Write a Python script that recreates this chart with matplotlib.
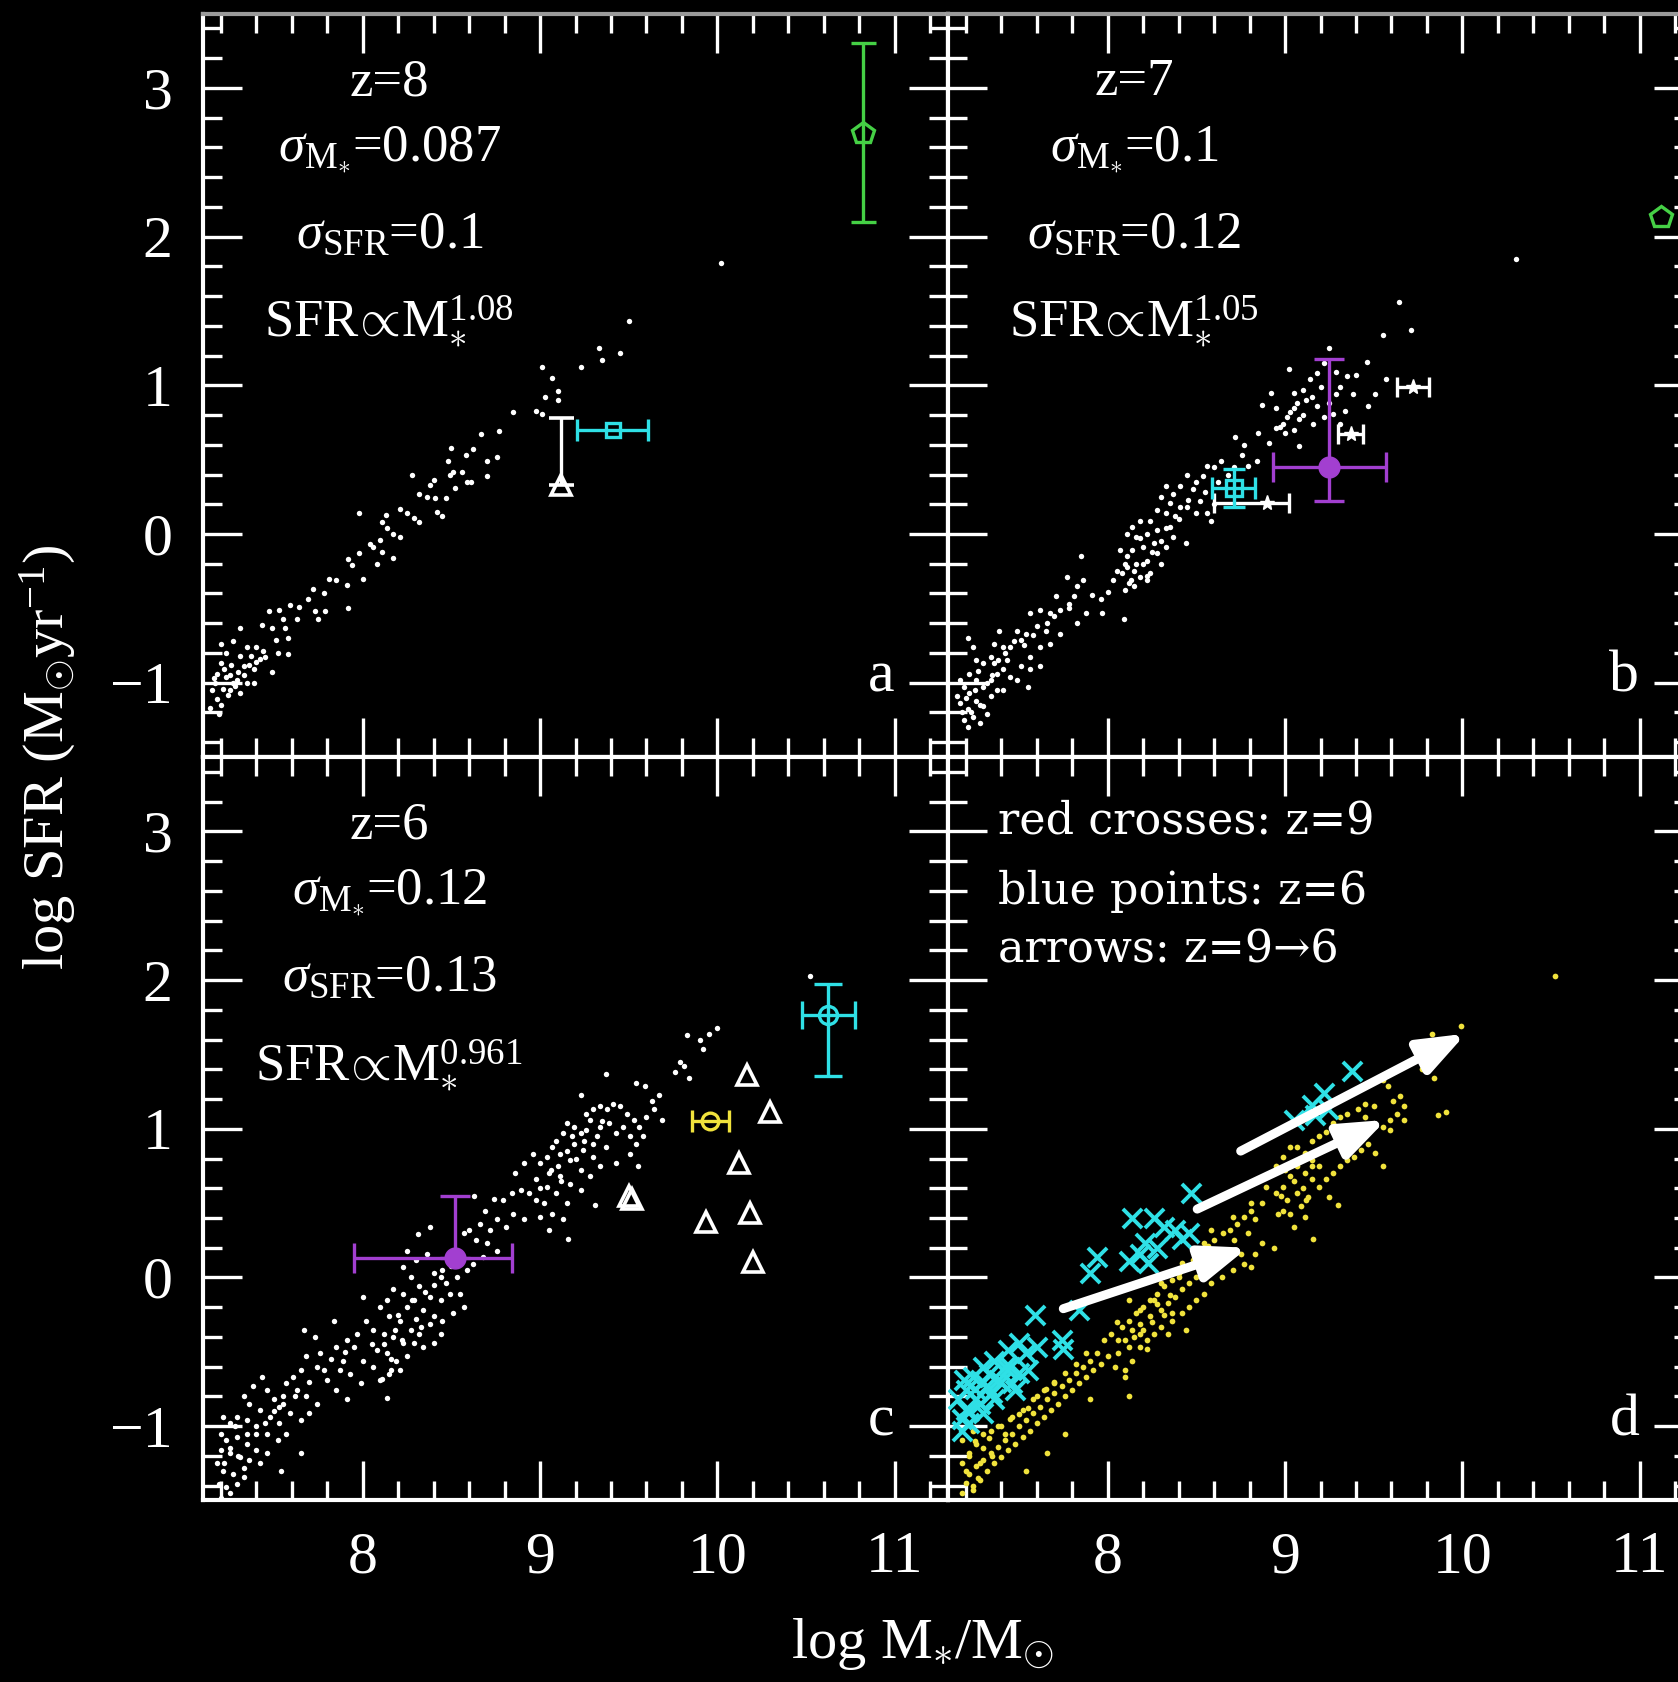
import matplotlib
matplotlib.use("Agg")
import matplotlib.pyplot as plt
from matplotlib.ticker import MultipleLocator

plt.rcParams['font.family'] = ['Liberation Serif', 'DejaVu Serif']
plt.rcParams['mathtext.fontset'] = 'custom'
plt.rcParams['mathtext.rm'] = 'Liberation Serif'
plt.rcParams['mathtext.it'] = 'Liberation Serif:italic'
plt.rcParams['mathtext.bf'] = 'Liberation Serif:bold'

# ---- simulated galaxies, z=8 (panel a) ----
a_x = [9.50, 9.33, 9.45, 9.35, 9.23, 9.01, 9.07, 9.10, 9.03, 9.10, 8.98, 9.01, 8.85, 8.77, 8.67,
       8.50, 8.62, 8.58, 8.48, 8.70, 8.76, 8.28, 8.49, 8.51, 8.56, 8.70, 8.40, 8.38, 8.59, 8.61,
       8.52, 8.32, 8.36, 8.41, 8.47, 8.21, 8.25, 8.29, 8.32, 8.42, 8.45, 8.13, 8.11, 8.14, 8.17,
       8.21, 8.10, 8.06, 8.11, 8.17, 7.98, 7.92, 7.94, 7.98, 8.04, 8.08, 8.00, 7.81, 7.85, 7.91,
       7.92, 7.72, 7.69, 7.78, 7.73, 7.79, 7.75, 7.59, 7.64, 7.53, 7.47, 7.55, 7.63, 7.49, 7.56,
       7.43, 7.51, 7.58, 7.52, 7.58, 7.31, 7.27, 7.35, 7.40, 7.44, 7.20, 7.23, 7.31, 7.37, 7.42,
       7.20, 7.26, 7.33, 7.39, 7.49, 7.18, 7.23, 7.29, 7.35, 7.39, 7.21, 7.25, 7.31, 7.18, 7.19,
       7.27, 7.22, 7.17, 7.15, 7.20, 7.25, 7.30, 7.28, 7.33, 7.36, 7.40, 7.45, 7.24, 7.14, 7.16,
       10.02]
a_y = [1.43, 1.25, 1.22, 1.17, 1.12, 1.12, 1.05, 0.96, 0.92, 0.90, 0.83, 0.81, 0.82, 0.69, 0.67,
       0.58, 0.57, 0.53, 0.49, 0.49, 0.52, 0.40, 0.40, 0.42, 0.42, 0.39, 0.36, 0.33, 0.35, 0.35,
       0.31, 0.27, 0.25, 0.24, 0.24, 0.17, 0.14, 0.11, 0.08, 0.15, 0.12, 0.13, 0.08, 0.04, 0.00,
       -0.02, -0.04, -0.09, -0.12, -0.16, 0.14, -0.17, -0.21, -0.13, -0.07, -0.20, -0.30, -0.30, -0.31, -0.34,
       -0.50, -0.37, -0.44, -0.40, -0.52, -0.52, -0.57, -0.48, -0.49, -0.51, -0.52, -0.57, -0.57, -0.63, -0.63,
       -0.61, -0.71, -0.70, -0.80, -0.81, -0.63, -0.72, -0.76, -0.76, -0.79, -0.74, -0.80, -0.82, -0.82, -0.84,
       -0.87, -0.88, -0.89, -0.91, -0.93, -0.94, -0.96, -0.98, -1.00, -1.00, -1.04, -1.05, -1.07, -1.11, -1.21,
       -1.00, -0.91, -1.00, -1.05, -1.15, -0.95, -0.93, -1.02, -0.95, -0.88, -0.86, -0.83, -1.08, -1.17, -0.97,
       1.82]

# ---- simulated galaxies, z=7 (panel b) ----
b_x = [9.64, 9.71, 9.55, 9.46, 9.40, 9.57, 9.51, 9.47, 9.25, 9.02, 8.92, 8.87, 8.85, 8.72, 8.77,
       8.76, 8.91, 9.08, 8.97, 9.01, 9.05, 9.10, 9.14, 9.18, 9.22, 9.29, 9.31, 9.35, 9.385, 9.29,
       9.20, 9.12, 9.07, 9.03, 8.99, 8.95, 9.16, 9.22, 9.27, 9.31, 9.08, 9.05, 9.18, 9.25, 9.34,
       8.84, 8.79, 8.71, 8.64, 8.60, 8.56, 8.54, 8.50, 8.48, 8.45, 8.41, 8.37, 8.33, 8.30, 8.35,
       8.41, 8.455, 8.50, 8.56, 8.58, 8.44, 8.38, 8.33, 8.28, 8.24, 8.18, 8.14, 8.11, 8.16, 8.22,
       8.28, 8.33, 8.37, 8.26, 8.20, 8.14, 8.11, 8.16, 8.22, 8.28, 8.33, 8.30, 8.24, 8.18, 8.13,
       8.11, 8.08, 8.10, 8.15, 8.22, 8.07, 8.03, 8.00, 7.96, 7.91, 7.85, 7.86, 7.83, 7.81, 7.77,
       7.78, 7.71, 7.73, 7.675, 7.62, 7.66, 7.60, 7.56, 7.54, 7.51, 7.49, 7.45, 7.41, 7.39, 7.36,
       7.34, 7.30, 7.26, 7.21, 7.24, 7.43, 7.51, 7.56, 7.62, 7.55, 8.09, 7.97, 7.88, 7.83, 7.73,
       7.675, 7.62, 7.56, 7.22, 7.26, 7.30, 7.34, 7.375, 7.41, 7.45, 7.19, 7.22, 7.26, 7.30, 7.21,
       7.24, 7.28, 7.17, 7.19, 7.34, 7.375, 7.41, 7.32, 7.36, 7.49, 7.17, 7.15, 7.215, 10.30,
       8.15, 8.20, 8.25, 8.12, 8.30, 8.35, 8.40, 8.45, 8.18, 8.10, 8.05, 8.22, 7.20, 7.25, 7.28,
       7.23, 7.32, 7.35, 7.18, 7.27, 7.38, 7.42, 7.47, 7.53, 7.58, 7.65, 7.70, 7.78, 8.55, 8.62,
       8.68, 8.52, 8.60, 9.05, 9.10, 9.15, 8.95, 9.00]
b_y = [1.56, 1.37, 1.34, 1.16, 1.07, 1.04, 0.94, 0.86, 1.25, 1.11, 0.95, 0.87, 0.68, 0.65, 0.60,
       0.53, 0.61, 0.59, 0.72, 0.79, 0.85, 0.97, 1.04, 1.08, 1.15, 1.09, 0.99, 1.06, 0.94, 0.94,
       0.99, 0.90, 0.88, 0.82, 0.74, 0.71, 0.74, 0.79, 0.81, 0.74, 0.77, 0.70, 0.86, 0.88, 0.83,
       0.49, 0.46, 0.45, 0.49, 0.45, 0.46, 0.39, 0.35, 0.30, 0.40, 0.32, 0.27, 0.32, 0.25, 0.21,
       0.18, 0.23, 0.14, 0.14, 0.09, -0.06, 0.12, 0.14, 0.16, 0.09, 0.09, 0.05, 0.00, -0.02, 0.00,
       0.03, 0.04, -0.02, -0.06, -0.09, -0.11, -0.15, -0.20, -0.18, -0.13, -0.09, -0.20, -0.26, -0.29, -0.31,
       -0.22, -0.26, -0.38, -0.35, -0.31, -0.11, -0.31, -0.39, -0.44, -0.41, -0.15, -0.31, -0.35, -0.42, -0.29,
       -0.47, -0.42, -0.51, -0.53, -0.51, -0.60, -0.62, -0.53, -0.67, -0.71, -0.65, -0.76, -0.76, -0.65, -0.74,
       -0.83, -0.87, -0.85, -0.70, -0.76, -0.85, -0.89, -0.83, -0.89, -1.03, -0.57, -0.53, -0.53, -0.60, -0.67,
       -0.74, -0.76, -0.91, -0.94, -0.98, -1.03, -0.98, -0.94, -0.91, -0.96, -1.03, -1.07, -1.12, -1.16, -1.18,
       -1.23, -1.27, -1.14, -1.25, -1.09, -1.05, -1.05, -1.21, -0.87, -0.98, -0.98, -1.09, -1.30, 1.85,
       -0.25, -0.20, -0.12, -0.33, -0.05, 0.05, 0.10, 0.18, -0.03, -0.20, -0.25, -0.28, -1.10, -1.05, -1.15,
       -1.20, -1.00, -0.95, -1.20, -0.92, -0.85, -0.80, -0.72, -0.75, -0.68, -0.65, -0.55, -0.50, 0.28, 0.35,
       0.40, 0.22, 0.20, 0.95, 0.80, 0.92, 0.85, 0.68]

# ---- simulated galaxies, z=6 (panel c) ----
c_x = [10.00, 9.95, 9.90, 9.92, 9.83, 9.79, 9.76, 9.84, 9.81, 9.37, 9.54, 9.59, 9.23, 9.67, 9.63,
       9.69, 9.64, 9.60, 9.56, 9.53, 9.49, 9.45, 9.41, 9.38, 9.34, 9.30, 9.26, 9.28, 9.34, 9.39,
       9.43, 9.47, 9.51, 9.54, 9.58, 9.55, 9.51, 9.43, 9.37, 9.32, 9.26, 9.23, 9.19, 9.15, 9.13,
       9.09, 9.19, 9.24, 9.30, 9.34, 9.28, 9.23, 9.17, 9.11, 9.07, 9.04, 9.00, 9.06, 9.11, 9.17,
       9.23, 9.31, 9.15, 9.09, 9.04, 8.98, 9.02, 9.07, 9.13, 9.05, 9.16, 8.96, 8.91, 8.86, 8.98,
       9.00, 8.94, 8.89, 8.84, 8.79, 8.74, 8.69, 8.63, 8.91, 8.85, 8.81, 8.76, 8.72, 8.66, 8.60,
       8.57, 8.64, 8.70, 8.76, 8.68, 8.62, 8.59, 8.53, 8.47, 8.44, 8.40, 8.38, 8.31, 8.36, 8.30,
       8.25, 8.23, 8.27, 8.32, 8.38, 8.44, 8.49, 8.55, 8.57, 8.51, 8.45, 8.40, 8.34, 8.29, 8.23,
       8.17, 8.14, 8.10, 8.15, 8.21, 8.27, 8.32, 8.38, 8.44, 8.40, 8.34, 8.29, 8.23, 8.17, 8.12,
       8.06, 8.02, 8.00, 8.08, 8.14, 8.19, 8.25, 8.21, 8.15, 8.10, 8.06, 8.00, 7.95, 7.97, 7.91,
       7.85, 7.84, 7.89, 7.87, 7.93, 7.99, 7.91, 7.85, 7.80, 7.74, 7.76, 7.68, 7.67, 7.73, 7.65,
       7.61, 7.57, 7.63, 7.68, 7.74, 7.70, 7.65, 7.59, 7.53, 7.50, 7.55, 7.46, 7.43, 7.38, 7.33,
       7.36, 7.42, 7.48, 7.53, 7.57, 7.52, 7.46, 7.40, 7.35, 7.29, 7.25, 7.21, 7.20, 7.23, 7.29,
       7.35, 7.40, 7.46, 7.42, 7.36, 7.31, 7.25, 7.20, 7.18, 7.21, 7.27, 7.33, 7.29, 7.23, 7.19,
       7.20, 7.25, 7.65, 7.54, 8.14, 8.11, 8.16, 10.52,
       8.20, 8.25, 8.30, 8.18, 8.35, 8.40, 8.28, 8.22, 8.12, 8.45, 8.50, 8.55, 8.33, 8.05, 8.16,
       9.10, 9.15, 9.20, 9.25, 9.05, 9.12, 9.30, 9.35, 9.00, 9.18, 7.25, 7.30, 7.22, 7.35, 7.28,
       7.40, 7.33, 7.45, 7.50, 7.55, 7.62, 7.70, 7.78, 7.82, 7.90]
c_y = [1.68, 1.64, 1.60, 1.54, 1.63, 1.45, 1.38, 1.34, 1.42, 1.37, 1.31, 1.29, 1.23, 1.23, 1.19,
       1.06, 1.13, 1.08, 1.01, 1.06, 1.10, 1.15, 1.17, 1.13, 1.15, 1.13, 1.10, 1.06, 1.01, 1.04,
       0.97, 1.01, 0.95, 0.90, 0.95, 0.75, 0.83, 0.77, 0.88, 0.95, 0.99, 0.97, 1.01, 1.04, 0.97,
       0.92, 0.90, 0.86, 0.81, 0.75, 0.68, 0.72, 0.79, 0.83, 0.88, 0.81, 0.77, 0.72, 0.68, 0.63,
       0.59, 0.49, 0.50, 0.57, 0.61, 0.66, 0.50, 0.43, 0.39, 0.32, 0.26, 0.83, 0.77, 0.70, 0.52,
       0.41, 0.57, 0.59, 0.57, 0.52, 0.53, 0.45, 0.55, 0.39, 0.43, 0.34, 0.39, 0.32, 0.36, 0.32,
       0.30, 0.25, 0.23, 0.18, 0.14, 0.09, 0.05, 0.00, -0.04, 0.00, 0.03, 0.34, 0.29, 0.16, 0.12,
       0.18, 0.07, 0.00, -0.06, -0.13, -0.15, -0.11, -0.11, -0.20, -0.24, -0.29, -0.26, -0.22, -0.15, -0.11,
       -0.08, -0.15, -0.20, -0.26, -0.29, -0.35, -0.38, -0.31, -0.38, -0.44, -0.47, -0.44, -0.44, -0.40, -0.38,
       -0.35, -0.29, -0.13, -0.49, -0.51, -0.56, -0.53, -0.62, -0.65, -0.69, -0.60, -0.56, -0.47, -0.38, -0.42,
       -0.47, -0.29, -0.56, -0.62, -0.65, -0.71, -0.82, -0.76, -0.69, -0.60, -0.51, -0.53, -0.35, -0.40, -0.62,
       -0.67, -0.71, -0.76, -0.80, -0.85, -0.91, -0.96, -0.91, -0.87, -0.82, -0.80, -0.76, -0.67, -0.73, -0.80,
       -0.85, -0.89, -0.94, -0.98, -1.05, -1.09, -1.05, -1.00, -0.96, -0.94, -0.98, -0.94, -1.05, -1.09, -1.07,
       -1.12, -1.16, -1.18, -1.25, -1.23, -1.21, -1.18, -1.16, -1.25, -1.30, -1.32, -1.34, -1.39, -1.41, -1.39,
       -1.48, -1.45, -1.18, -1.30, -0.81, -0.68, -0.62, 2.03,
       -0.25, -0.20, -0.28, -0.35, -0.10, -0.05, -0.15, -0.42, -0.45, 0.05, 0.08, 0.15, -0.33, -0.45, -0.55,
       0.75, 0.85, 0.80, 0.92, 0.70, 0.65, 0.90, 1.05, 0.60, 0.95, -1.15, -1.20, -1.25, -1.05, -1.00,
       -1.05, -1.28, -0.98, -0.90, -0.85, -0.80, -0.70, -0.62, -0.55, -0.50]

# ---- panel d: z=6 galaxies (yellow) and their z=9 progenitors (crosses) ----
d6_x = [9.99, 9.83, 9.87, 9.77, 9.84, 9.58, 9.65, 9.61, 9.67, 9.63, 9.59, 9.67, 9.55, 9.59, 9.86,
        9.91, 9.50, 9.45, 9.41, 9.35, 9.31, 9.27, 9.33, 9.37, 9.29, 9.23, 9.19, 9.15, 9.51, 9.55,
        9.47, 9.43, 9.39, 9.35, 9.31, 9.27, 9.23, 9.19, 9.15, 9.11, 9.07, 9.03, 8.99, 9.07, 9.11,
        9.15, 9.19, 9.03, 8.99, 8.95, 9.01, 9.07, 9.13, 9.09, 9.03, 8.99, 9.05, 9.11, 9.16, 9.30,
        9.25, 8.93, 8.89, 8.87, 8.81, 8.77, 8.73, 8.69, 8.83, 8.79, 8.71, 8.65, 8.60, 8.565, 8.525,
        8.48, 8.44, 8.40, 8.36, 8.32, 8.28, 8.24, 8.20, 8.16, 8.12, 8.08, 8.14, 8.18, 8.24, 8.30,
        8.34, 8.38, 8.42, 8.46, 8.50, 8.545, 8.585, 8.625, 8.665, 8.75, 8.77, 8.83, 8.81, 8.705, 8.645,
        8.585, 8.545, 8.50, 8.46, 8.42, 8.36, 8.30, 8.26, 8.22, 8.18, 8.12, 8.06, 8.02, 7.98, 8.06,
        8.14, 8.10, 8.04, 8.00, 7.94, 7.90, 7.86, 7.82, 7.78, 7.74, 7.70, 7.66, 7.62, 7.58, 7.54,
        7.50, 7.46, 7.42, 7.38, 7.34, 7.30, 7.26, 7.22, 7.20, 7.24, 7.28, 7.32, 7.36, 7.40, 7.44,
        7.48, 7.52, 7.56, 7.60, 7.64, 7.68, 7.72, 7.76, 7.80, 7.84, 7.88, 7.92, 7.96, 7.26, 7.22,
        7.18, 7.18, 7.24, 7.30, 7.34, 7.40, 7.46, 7.52, 7.58, 7.64, 7.70, 7.76, 7.82, 7.88, 7.66,
        7.54, 7.76, 7.90, 8.12, 8.10, 8.18, 8.34, 8.44, 8.36, 8.26, 8.30, 8.42, 8.545, 8.585, 8.705,
        8.81, 8.95, 9.55, 9.45, 8.87, 8.94, 8.96, 10.52,
        8.15, 8.20, 8.25, 8.18, 8.28, 8.10, 8.22, 8.32, 8.35, 8.05, 8.12, 8.40, 9.05, 9.10, 9.00,
        9.15, 9.08, 9.12, 8.98, 9.20, 7.22, 7.25, 7.28, 7.30, 7.20, 7.33, 7.35, 7.24, 7.27, 7.38,
        7.42, 7.45, 7.18, 7.50, 7.55, 7.60, 7.65, 7.70]
d6_y = [1.69, 1.64, 1.57, 1.40, 1.34, 1.29, 1.22, 1.19, 1.15, 1.10, 1.06, 1.06, 1.01, 0.99, 1.09,
        1.11, 1.15, 1.17, 1.13, 1.10, 1.08, 1.04, 0.99, 0.95, 0.97, 0.98, 0.95, 0.92, 0.84, 0.75,
        0.90, 0.86, 0.81, 0.79, 0.75, 0.70, 0.66, 0.75, 0.79, 0.84, 0.88, 0.88, 0.81, 0.75, 0.70,
        0.66, 0.61, 0.68, 0.61, 0.57, 0.52, 0.57, 0.54, 0.48, 0.43, 0.45, 0.34, 0.41, 0.26, 0.49,
        0.54, 0.70, 0.61, 0.50, 0.45, 0.41, 0.36, 0.32, 0.39, 0.30, 0.25, 0.30, 0.25, 0.21, 0.16,
        0.12, 0.07, 0.03, -0.02, -0.06, -0.11, -0.15, -0.20, -0.24, -0.29, -0.33, -0.35, -0.31, -0.26, -0.22,
        -0.17, -0.13, -0.08, -0.04, 0.00, 0.05, 0.09, 0.14, 0.18, 0.16, 0.09, 0.16, 0.07, 0.05, 0.00,
        -0.04, -0.11, -0.15, -0.20, -0.24, -0.29, -0.33, -0.38, -0.42, -0.47, -0.47, -0.42, -0.38, -0.42, -0.51,
        -0.56, -0.62, -0.60, -0.53, -0.51, -0.56, -0.60, -0.64, -0.69, -0.73, -0.78, -0.82, -0.87, -0.91, -0.96,
        -1.00, -1.05, -1.09, -1.14, -1.18, -1.23, -1.27, -1.32, -1.38, -1.43, -1.36, -1.30, -1.25, -1.21, -1.16,
        -1.12, -1.07, -1.03, -0.98, -0.94, -0.89, -0.85, -0.80, -0.76, -0.71, -0.67, -0.62, -0.58, -1.12, -1.18,
        -1.25, -1.09, -1.03, -1.05, -1.03, -1.00, -0.94, -0.89, -0.82, -0.76, -0.71, -0.64, -0.58, -0.51, -1.18,
        -1.30, -1.05, -0.82, -0.80, -0.67, -0.38, -0.38, -0.35, -0.24, -0.15, -0.04, 0.10, 0.23, 0.32, 0.41,
        0.50, 0.75, 1.33, 1.08, 0.23, 0.20, 0.43, 2.03,
        -0.40, -0.35, -0.30, -0.22, -0.18, -0.42, -0.48, -0.25, -0.12, -0.30, -0.15, 0.00, 0.65, 0.60, 0.72,
        0.75, 0.80, 0.52, 0.55, 0.85, -1.20, -1.10, -1.25, -1.15, -1.30, -1.08, -1.20, -1.40, -1.35, -1.00,
        -1.05, -0.95, -1.45, -0.92, -0.88, -0.80, -0.75, -0.70]
d9_x = [9.38, 9.22, 9.15, 9.24, 9.05, 9.17, 8.47, 8.14, 8.26, 8.32, 8.38, 8.46, 8.42, 8.21, 8.28,
        8.18, 8.12, 8.23, 7.94, 7.90, 7.84, 7.59, 7.74, 7.75, 7.50, 7.44, 7.60, 7.36, 7.30, 7.42,
        7.50, 7.38, 7.46, 7.24, 7.32, 7.20, 7.26, 7.20, 7.30, 7.22, 7.18, 7.48, 7.54, 7.36, 7.19,
        7.155, 7.25, 7.28, 7.33, 7.40, 7.45, 7.22, 7.35, 7.55, 7.18, 7.30]
d9_y = [1.39, 1.24, 1.16, 1.13, 1.06, 1.09, 0.57, 0.40, 0.40, 0.34, 0.32, 0.30, 0.26, 0.23, 0.20,
        0.16, 0.11, 0.10, 0.14, 0.03, -0.22, -0.25, -0.42, -0.48, -0.44, -0.49, -0.47, -0.56, -0.60, -0.60,
        -0.64, -0.69, -0.71, -0.67, -0.73, -0.76, -0.82, -0.89, -0.91, -0.98, -1.03, -0.76, -0.51, -0.82, -0.69,
        -0.82, -0.75, -0.85, -0.65, -0.70, -0.60, -0.90, -0.78, -0.62, -0.95, -0.70]

# arrows z=9 -> z=6
arr_x0 = [7.75, 8.505, 8.75]
arr_y0 = [-0.21, 0.46, 0.85]
arr_x1 = [8.79, 9.57, 10.02]
arr_y1 = [0.20, 1.06, 1.64]

# observed points
green_a = (10.82, 2.70, 0.60)
green_b = (11.12, 2.13)
cyan_a = (9.41, 0.70, 0.20)
lim_a = (9.12, 0.33, 0.45)
purple_b = (9.25, 0.45, 0.32, 0.23, 0.73)
cyan_b = (8.71, 0.31, 0.12, 0.13)
white_b_x = [8.90, 9.37, 9.72]
white_b_y = [0.21, 0.67, 0.99]
white_b_xlo = [0.30, 0.07, 0.09]
white_b_xhi = [0.12, 0.07, 0.09]
purple_c = (8.52, 0.13, 0.57, 0.32, 0.42)
yellow_c = (9.96, 1.05, 0.105)
cyan_c = (10.625, 1.765, 0.15, 0.41, 0.21)
tri_c_x = [10.165, 10.296, 10.123, 10.184, 9.935, 10.202, 9.50, 9.52]
tri_c_y = [1.361, 1.11, 0.768, 0.435, 0.375, 0.106, 0.55, 0.53]

WHITE = 'white'
CYAN = '#2fe0e6'
GREEN = '#45d045'
PURPLE = '#a23fd0'
YELLOW = '#f0e23c'

fig = plt.figure(figsize=(16.78, 16.82), dpi=100, facecolor='black')
L, R, W = 0.12098, 0.56496, 0.44398
BT, BB, H = 0.54994, 0.10791, 0.44198
ax_a = fig.add_axes([L, BT, W, H])
ax_b = fig.add_axes([R, BT, W, H])
ax_c = fig.add_axes([L, BB, W, H])
ax_d = fig.add_axes([R, BB, W, H])


def style(ax, xlab, ylab, top_row):
    ax.set_facecolor('black')
    ax.set_xlim(7.1, 11.3)
    ax.set_ylim(-1.5, 3.5)
    ax.xaxis.set_major_locator(MultipleLocator(1))
    ax.xaxis.set_minor_locator(MultipleLocator(0.2))
    ax.yaxis.set_major_locator(MultipleLocator(1))
    ax.yaxis.set_minor_locator(MultipleLocator(0.2))
    ax.tick_params(which='both', direction='in', top=True, right=True,
                   colors='white', width=2.4, labelsize=43, pad=22)
    ax.tick_params(which='major', length=28)
    ax.tick_params(which='minor', length=14)
    ax.tick_params(labelbottom=xlab, labelleft=ylab)
    for s in ax.spines.values():
        s.set_color('white')
        s.set_linewidth(3)
    if top_row:
        ax.spines['top'].set_color('#9a9a9a')


style(ax_a, False, True, True)
style(ax_b, False, False, True)
style(ax_c, True, True, False)
style(ax_d, True, False, False)

dot = dict(s=15, color=WHITE, linewidths=0, zorder=2)
eb = dict(elinewidth=2.4, capthick=2.4, zorder=4)

# panel a
ax_a.scatter(a_x, a_y, **dot)
ax_a.errorbar(green_a[0], green_a[1], yerr=green_a[2], fmt='p', ms=16, mfc='none',
              mec=GREEN, mew=2.4, color=GREEN, capsize=9, **eb)
ax_a.errorbar(cyan_a[0], cyan_a[1], xerr=cyan_a[2], fmt='s', ms=10, mfc='none',
              mec=CYAN, mew=2.4, color=CYAN, capsize=8, **eb)
ax_a.errorbar(lim_a[0], lim_a[1], yerr=[[0], [lim_a[2]]], fmt='^', ms=15, mfc='none',
              mec=WHITE, mew=2.6, color=WHITE, capsize=9, **eb)

# panel b
ax_b.scatter(b_x, b_y, **dot)
ax_b.plot(green_b[0], green_b[1], 'p', ms=16, mfc='none', mec=GREEN, mew=2.4, zorder=4)
ax_b.errorbar(white_b_x, white_b_y, xerr=[white_b_xlo, white_b_xhi], fmt='*', ms=11,
              color=WHITE, capsize=7, **eb)
ax_b.errorbar(cyan_b[0], cyan_b[1], xerr=cyan_b[2], yerr=cyan_b[3], fmt='s', ms=12,
              mfc='none', mec=CYAN, mew=2.4, color=CYAN, capsize=8, **eb)
ax_b.errorbar(purple_b[0], purple_b[1], xerr=purple_b[2],
              yerr=[[purple_b[3]], [purple_b[4]]], fmt='o', ms=15, color=PURPLE,
              capsize=11, **eb)

# panel c
ax_c.scatter(c_x, c_y, **dot)
ax_c.errorbar(purple_c[0], purple_c[1], xerr=[[purple_c[2]], [purple_c[3]]],
              yerr=[[0], [purple_c[4]]], fmt='o', ms=15, color=PURPLE, capsize=11, **eb)
ax_c.errorbar(yellow_c[0], yellow_c[1], xerr=yellow_c[2], fmt='o', ms=12, mfc='none',
              mec=YELLOW, mew=2.4, color=YELLOW, capsize=8, **eb)
ax_c.errorbar(cyan_c[0], cyan_c[1], xerr=cyan_c[2], yerr=[[cyan_c[3]], [cyan_c[4]]],
              fmt='o', ms=13, mfc='none', mec=CYAN, mew=2.4, color=CYAN, capsize=10, **eb)
ax_c.plot(tri_c_x, tri_c_y, '^', ms=15, mfc='none', mec=WHITE, mew=2.6, zorder=4)

# panel d
ax_d.scatter(d6_x, d6_y, s=17, color=YELLOW, linewidths=0, zorder=2)
ax_d.scatter(d9_x, d9_y, s=190, marker='x', color=CYAN, linewidths=2.8, zorder=3)
for x0, y0, x1, y1 in zip(arr_x0, arr_y0, arr_x1, arr_y1):
    ax_d.annotate('', xy=(x1, y1), xytext=(x0, y0), zorder=5,
                  arrowprops=dict(arrowstyle='-|>,head_length=1.0,head_width=0.38',
                                  mutation_scale=28, lw=6.5, color=WHITE,
                                  shrinkA=0, shrinkB=0))

# panel annotations
fs = 38
for ax, z, sm, ss, slope in [(ax_a, '8', '0.087', '0.1', '1.08'),
                             (ax_b, '7', '0.1', '0.12', '1.05'),
                             (ax_c, '6', '0.12', '0.13', '0.961')]:
    kw = dict(transform=ax.transAxes, ha='center', va='baseline', color='white', fontsize=fs)
    ax.text(0.25, 0.89, 'z=' + z, **kw)
    ax.text(0.25, 0.802, r'$\sigma_{\rm M_{\ast}}$=' + sm, **kw)
    ax.text(0.25, 0.685, r'$\sigma_{\rm SFR}$=' + ss, **kw)
    ax.text(0.25, 0.566, r'SFR$\!\propto\!$M$_{\ast}^{' + slope + '}$', **kw)

kw = dict(transform=ax_d.transAxes, ha='left', va='baseline', color='white',
          fontsize=32, family='DejaVu Serif')
ax_d.text(0.067, 0.897, 'red crosses: z=9', **kw)
ax_d.text(0.067, 0.803, 'blue points: z=6', **kw)
ax_d.text(0.067, 0.724, 'arrows: z=9\u21926', **kw)

for ax, lab in [(ax_a, 'a'), (ax_b, 'b'), (ax_c, 'c'), (ax_d, 'd')]:
    ax.text(0.928, 0.088, lab, transform=ax.transAxes, ha='right', va='baseline',
            color='white', fontsize=43)

fig.text(0.0286, 0.55, r'log SFR ($\rm M_{\odot}yr^{-1}$)', rotation=90, ha='center',
         va='center', color='white', fontsize=42)
fig.text(0.55, 0.0226, r'log $\rm M_{\ast}/M_{\odot}$', ha='center', va='center',
         color='white', fontsize=42)

fig.savefig('out.png', dpi=100, facecolor='black')
